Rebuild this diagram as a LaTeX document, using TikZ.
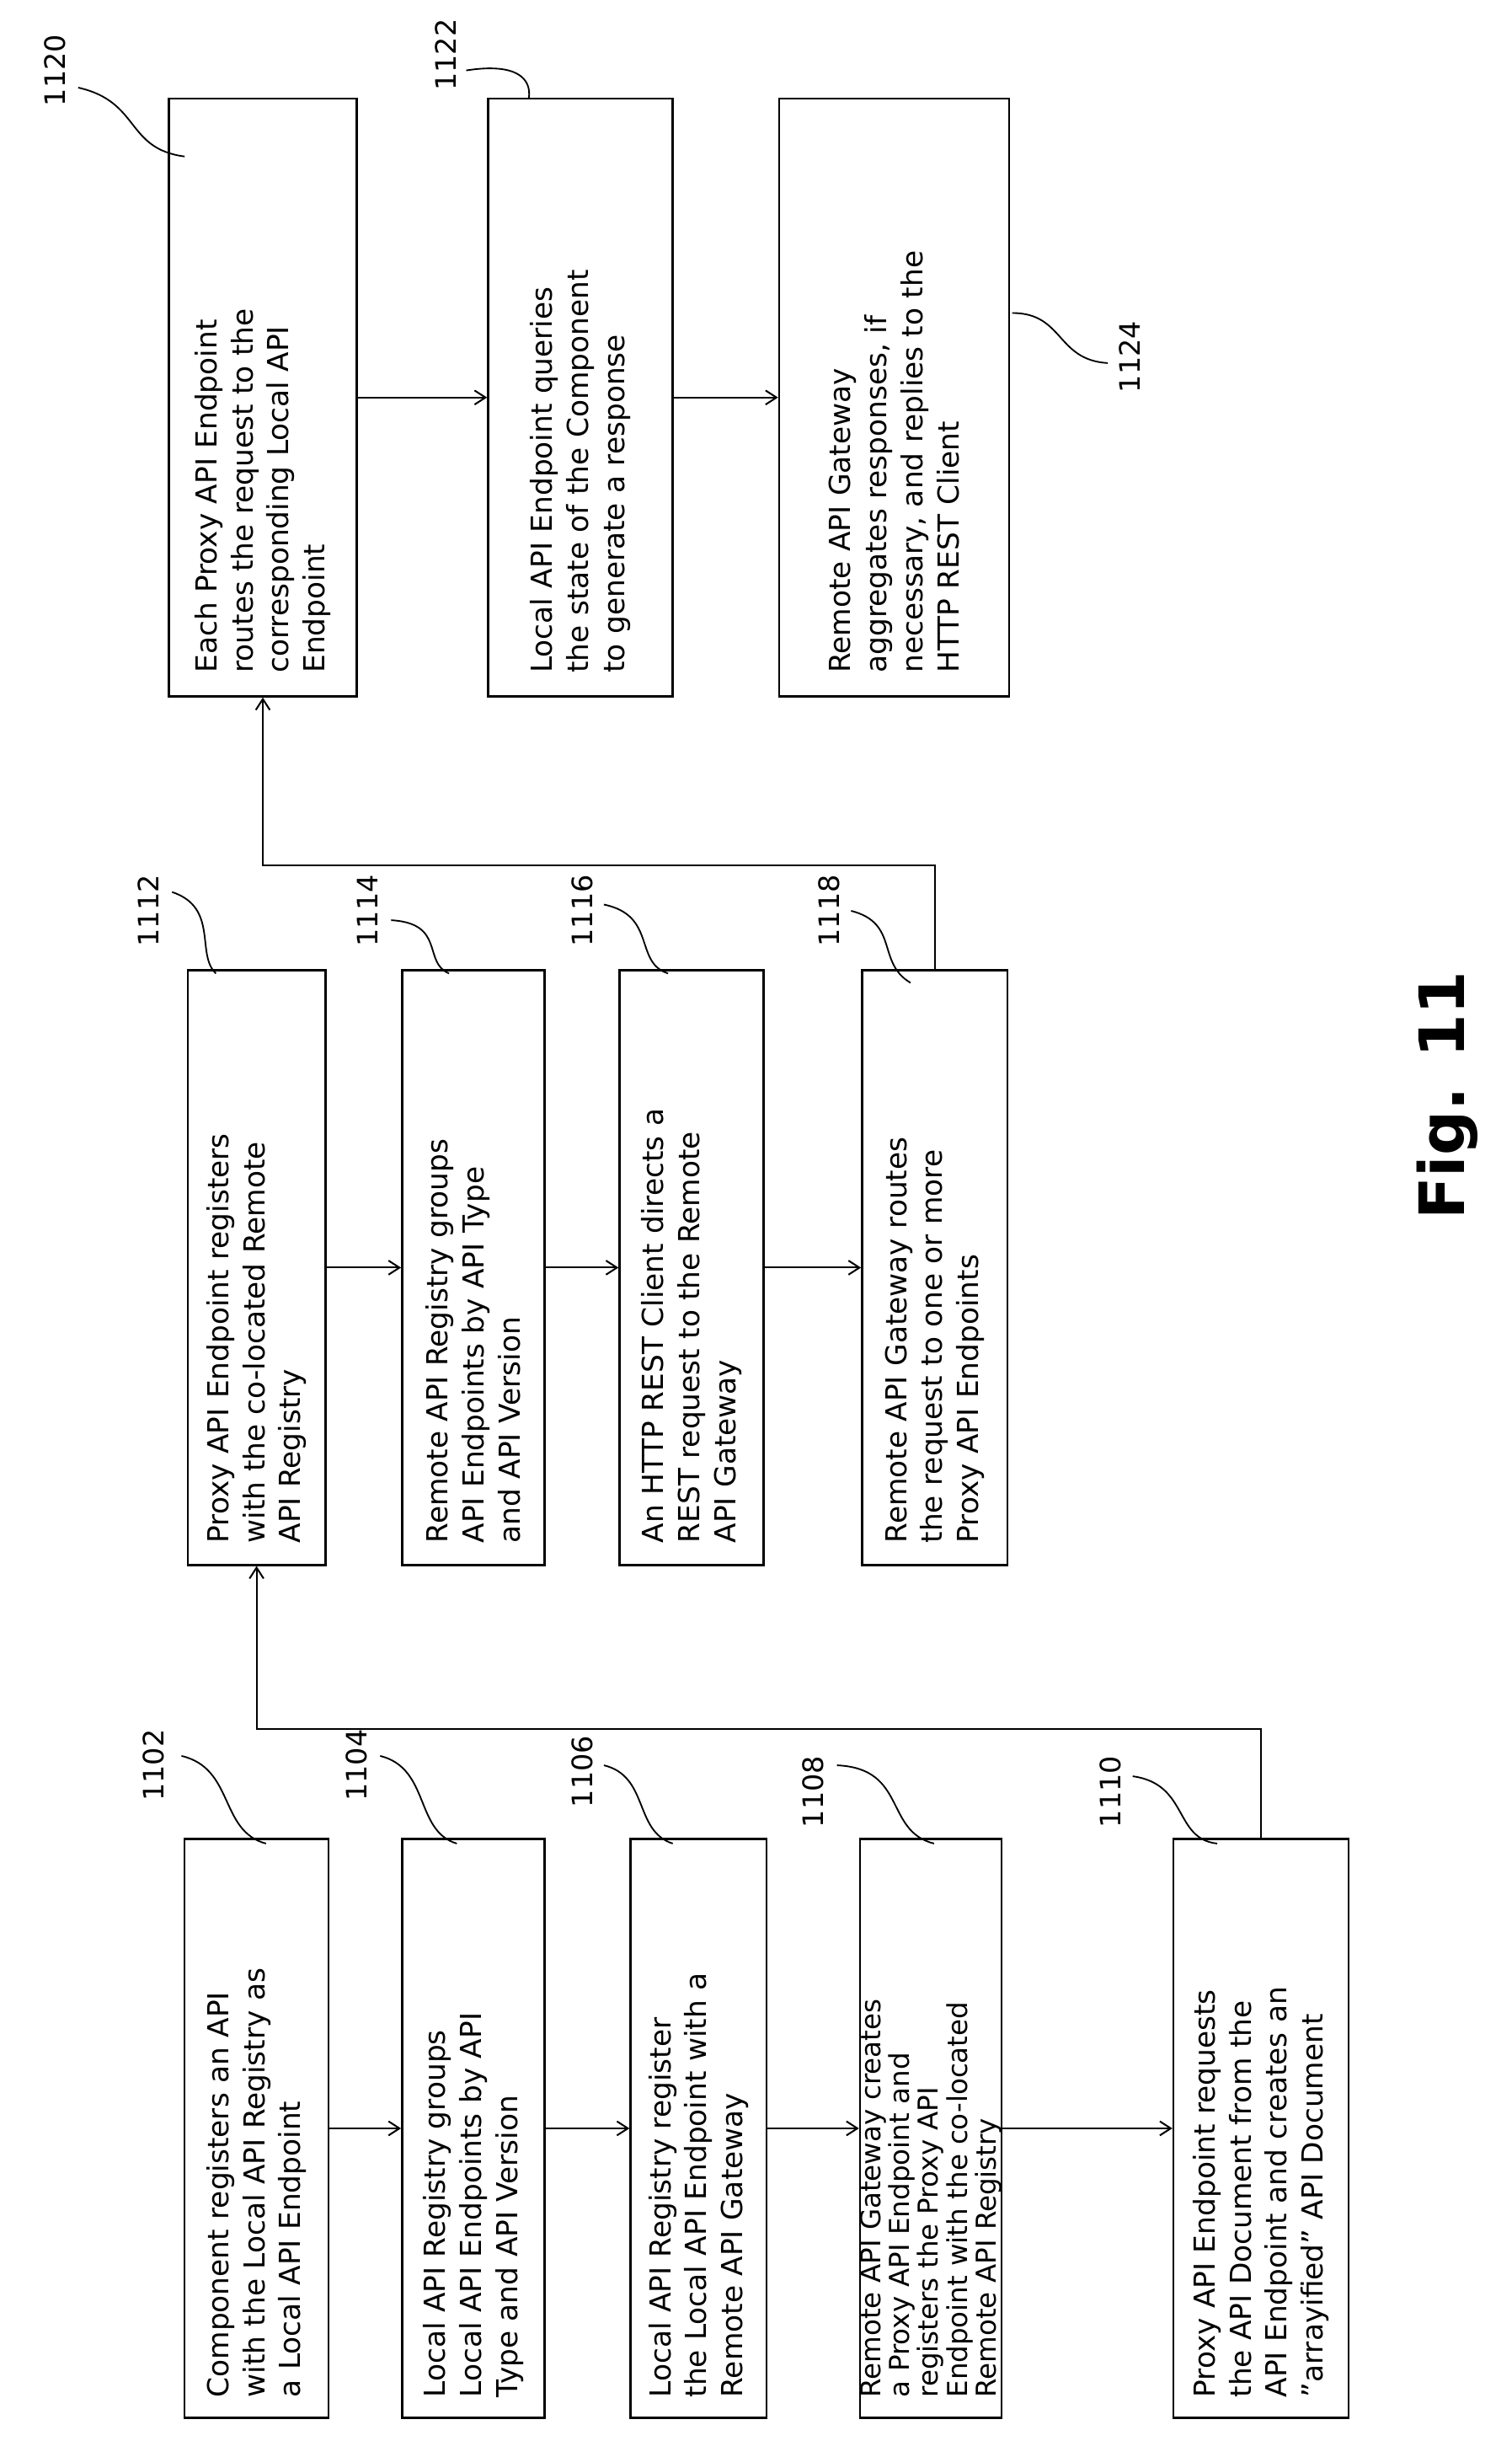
\documentclass[tikz,border=0pt]{standalone}
\usepackage{fontspec}
\setmainfont{DejaVu Sans}
\usetikzlibrary{arrows.meta}
\begin{document}
\begin{tikzpicture}[x=1pt,y=-1pt,
 box/.style={draw,line width=1.3pt,rotate=90,align=left,font=\fontsize{18.5}{23}\selectfont,inner sep=0pt},
 lab/.style={rotate=90,font=\fontsize{18}{20}\selectfont},
 arr/.style={->,line width=1.1pt,>={Straight Barb[length=7pt,width=9pt]}},
 lead/.style={line width=1pt}]
\useasboundingbox (0,0) rectangle (966,1570);
% col 1
\node[box,minimum width=370,minimum height=92,text width=344] (b1102) at (164,1360) {Component registers an API\\with the Local API Registry as\\a Local API Endpoint};
\node[box,minimum width=370,minimum height=91,text width=344] (b1104) at (302.5,1360) {Local API Registry groups\\Local API Endpoints by API\\Type and API Version};
\node[box,minimum width=370,minimum height=87,text width=344] (b1106) at (446.5,1360) {Local API Registry register\\the Local API Endpoint with a\\Remote API Gateway};
\node[box,minimum width=370,minimum height=90,text width=344,font=\fontsize{17.5}{18.5}\selectfont] (b1108) at (595,1360) {Remote API Gateway creates\\a Proxy API Endpoint and\\registers the Proxy API\\Endpoint with the co-located\\Remote API Registry};
\node[box,minimum width=370,minimum height=112,text width=344] (b1110) at (806,1360) {Proxy API Endpoint requests\\the API Document from the\\API Endpoint and creates an\\"arrayified" API Document};
% col 2
\node[box,minimum width=380,minimum height=88,text width=352] (b1112) at (164,810) {Proxy API Endpoint registers\\with the co-located Remote\\API Registry};
\node[box,minimum width=380,minimum height=91,text width=352] (b1114) at (302.5,810) {Remote API Registry groups\\API Endpoints by API Type\\and API Version};
\node[box,minimum width=380,minimum height=92,text width=352] (b1116) at (442,810) {An HTTP REST Client directs a\\REST request to the Remote\\API Gateway};
\node[box,minimum width=380,minimum height=93,text width=352] (b1118) at (597.5,810) {Remote API Gateway routes\\the request to one or more\\Proxy API Endpoints};
% col 3
\node[box,minimum width=382,minimum height=120,text width=352] (b1120) at (168,254) {Each Proxy API Endpoint\\routes the request to the\\corresponding Local API\\Endpoint};
\node[box,minimum width=382,minimum height=118,text width=352] (b1122) at (371,254) {Local API Endpoint queries\\the state of the Component\\to generate a response};
\node[box,minimum width=382,minimum height=147,text width=352] (b1124) at (571.5,254) {Remote API Gateway\\aggregates responses, if\\necessary, and replies to the\\HTTP REST Client};
% arrows
\draw[arr] (b1102) -- (b1104);
\draw[arr] (b1104) -- (b1106);
\draw[arr] (b1106) -- (b1108);
\draw[arr] (b1108) -- (b1110);
\draw[arr] (b1112) -- (b1114);
\draw[arr] (b1114) -- (b1116);
\draw[arr] (b1116) -- (b1118);
\draw[arr] (b1120) -- (b1122);
\draw[arr] (b1122) -- (b1124);
\coordinate (c1) at (806,1105);
\coordinate (c2) at (164,1105);
\draw[arr] (b1110.east) -- (c1) -- (c2) -- (b1112.west);
\coordinate (c3) at (597.5,553);
\coordinate (c4) at (168,553);
\draw[arr] (b1118.east) -- (c3) -- (c4) -- (b1120.west);
% labels
\node[lab] (l1102) at (98,1128) {1102};
\draw[lead] (116,1122) .. controls (150,1130) and (140,1170) .. (170,1178);
\node[lab] (l1104) at (228,1128) {1104};
\draw[lead] (243,1122) .. controls (275,1130) and (265,1170) .. (292,1178);
\node[lab] (l1106) at (372,1132) {1106};
\draw[lead] (386,1128) .. controls (415,1135) and (405,1170) .. (430,1178);
\node[lab] (l1108) at (520,1145) {1108};
\draw[lead] (535,1128) .. controls (580,1130) and (565,1170) .. (597,1178);
\node[lab] (l1110) at (710,1145) {1110};
\draw[lead] (724,1135) .. controls (760,1140) and (750,1175) .. (778,1178);
\node[lab] (l1112) at (95,582) {1112};
\draw[lead] (110,570) .. controls (140,580) and (125,610) .. (138,622);
\node[lab] (l1114) at (235,582) {1114};
\draw[lead] (250,588) .. controls (285,590) and (270,615) .. (287,622);
\node[lab] (l1116) at (372,582) {1116};
\draw[lead] (386,578) .. controls (420,585) and (405,615) .. (427,622);
\node[lab] (l1118) at (530,582) {1118};
\draw[lead] (544,582) .. controls (575,590) and (560,615) .. (582,628);
\node[lab] (l1120) at (35,45) {1120};
\draw[lead] (50,56) .. controls (90,65) and (80,95) .. (118,100);
\node[lab] (l1122) at (285,35) {1122};
\draw[lead] (298,45) .. controls (330,40) and (340,50) .. (338,63);
\node[lab] (l1124) at (722,228) {1124};
\draw[lead] (708,232) .. controls (675,230) and (680,200) .. (647,200);
\node[rotate=90,font=\bfseries\fontsize{40}{44}\selectfont] (fig) at (925,700) {Fig. 11};
\end{tikzpicture}
\end{document}
